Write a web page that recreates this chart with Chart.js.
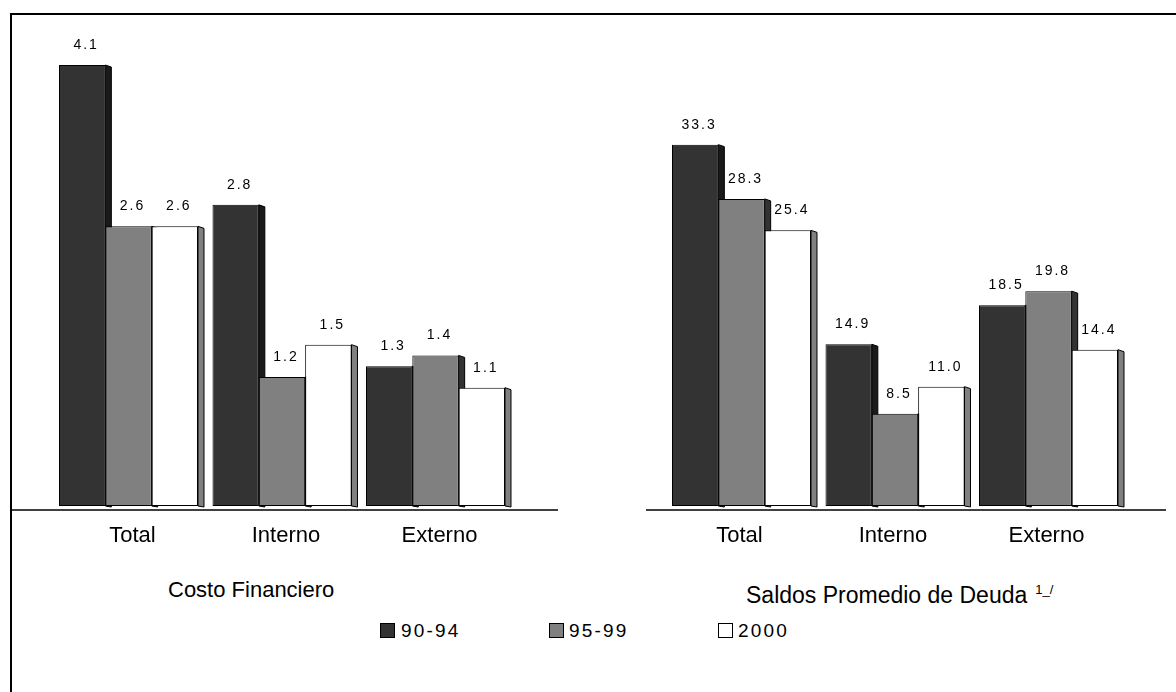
<!DOCTYPE html>
<html>
<head>
<meta charset="utf-8">
<script src="https://cdn.jsdelivr.net/npm/chart.js@4/dist/chart.umd.min.js"></script>
<style>
  html, body { margin: 0; padding: 0; background: #fff; width: 1176px; height: 692px; overflow: hidden;
    font-family: "Liberation Sans", Arial, sans-serif; color: #000; }
  #frame { position: absolute; left: 10px; top: 13px; width: 1200px; height: 720px;
    border-left: 2px solid #000; border-top: 2px solid #000; }
  canvas { position: absolute; }
  .cap { position: absolute; font-size: 22px; line-height: 22px; white-space: nowrap; }
  .cap sup { font-size: 13px; position: relative; top: -9px; margin-left: 8px; vertical-align: baseline; }
  .key { position: absolute; width: 13px; height: 13px; border: 1px solid #000; top: 623px; }
  .ktx { position: absolute; font-size: 19px; line-height: 19px; letter-spacing: 2.2px; top: 621px; white-space: nowrap; }
</style>
</head>
<body>
<div id="frame"></div>
<canvas id="costo" width="546" height="535" style="left:12px;top:15px"></canvas>
<canvas id="saldo" width="520" height="535" style="left:646px;top:15px"></canvas>

<div class="cap" style="left:168px;top:579px">Costo Financiero</div>
<div class="cap" style="left:746px;top:584px;font-size:23px">Saldos Promedio de Deuda<sup>1_/</sup></div>

<div id="legend"></div>

<script>
// Categories and series
const categories = ['Total', 'Interno', 'Externo'];
const periods = ['90-94', '95-99', '2000'];

// Costo Financiero
const costo9094 = [4.1, 2.8, 1.3];
const costo9599 = [2.6, 1.2, 1.4];
const costo2000 = [2.6, 1.5, 1.1];

// Saldos Promedio de Deuda
const saldo9094 = [33.3, 14.9, 18.5];
const saldo9599 = [28.3, 8.5, 19.8];
const saldo2000 = [25.4, 11.0, 14.4];

const frontColors = ['#333333', '#808080', '#ffffff'];
const sideColors = ['#1a1a1a', '#333333', '#808080'];

// Side faces go underneath every front face, so the next bar hides them
const bar3d = {
  id: 'bar3d',
  beforeDatasetsDraw(chart) {
    const ctx = chart.ctx;
    const depth = 6, slant = 2;
    chart.data.datasets.forEach((ds, i) => {
      chart.getDatasetMeta(i).data.forEach(el => {
        const p = el.getProps(['x', 'y', 'base', 'width'], true);
        const r = p.x + p.width / 2;
        ctx.save();
        ctx.beginPath();
        ctx.moveTo(r, p.y);
        ctx.lineTo(r + depth, p.y + slant);
        ctx.lineTo(r + depth, p.base + 1);
        ctx.lineTo(r, p.base);
        ctx.closePath();
        ctx.fillStyle = sideColors[i];
        ctx.fill();
        ctx.strokeStyle = '#000';
        ctx.lineWidth = 1;
        ctx.stroke();
        ctx.restore();
      });
    });
  },
  afterDatasetsDraw(chart) {
    const ctx = chart.ctx;
    // category baseline
    const y0 = chart.scales.y.getPixelForValue(0) + 4;
    ctx.save();
    ctx.strokeStyle = '#000';
    ctx.lineWidth = 1.5;
    ctx.beginPath();
    ctx.moveTo(0, y0);
    ctx.lineTo(chart.width, y0);
    ctx.stroke();
    // value labels
    ctx.fillStyle = '#000';
    ctx.font = '14px "Liberation Sans", Arial, sans-serif';
    ctx.letterSpacing = '2px';
    ctx.textAlign = 'center';
    ctx.textBaseline = 'alphabetic';
    chart.data.datasets.forEach((ds, i) => {
      chart.getDatasetMeta(i).data.forEach((el, j) => {
        const p = el.getProps(['x', 'y'], true);
        ctx.fillText(ds.data[j].toFixed(1), p.x + 4, p.y - 16);
      });
    });
    ctx.restore();
  }
};

function makeChart(id, series, yMax, pad, labelOffset) {
  return new Chart(document.getElementById(id), {
    type: 'bar',
    data: {
      labels: categories,
      datasets: series.map((vals, i) => ({
        label: periods[i],
        data: vals,
        backgroundColor: frontColors[i],
        borderColor: '#000',
        borderWidth: 1,
        borderSkipped: false,
        categoryPercentage: 0.9055,
        barPercentage: 1.0,
        clip: false
      }))
    },
    options: {
      responsive: false,
      maintainAspectRatio: false,
      animation: false,
      events: [],
      layout: { padding: { left: pad[0], right: pad[1], top: 7, bottom: 0 } },
      plugins: { legend: { display: false }, tooltip: { enabled: false }, title: { display: false } },
      scales: {
        x: {
          grid: { display: false, drawTicks: false },
          border: { display: false },
          ticks: {
            color: '#000',
            padding: 17,
            labelOffset: labelOffset,
            font: { family: '"Liberation Sans", Arial, sans-serif', size: 22 }
          },
          afterFit(scale) { scale.height = 44; }
        },
        y: {
          display: false,
          min: 0,
          max: yMax
        }
      }
    },
    plugins: [bar3d]
  });
}

makeChart('costo', [costo9094, costo9599, costo2000], 4.5, [39.75, 45.75], 4);
makeChart('saldo', [saldo9094, saldo9599, saldo2000], 44.6, [18.75, 40.75], -2);

// Shared legend
const legendPos = [[380, 401], [549, 569], [718, 738]];
const legend = document.getElementById('legend');
periods.forEach((p, i) => {
  const k = document.createElement('div');
  k.className = 'key';
  k.style.left = legendPos[i][0] + 'px';
  k.style.background = frontColors[i];
  legend.appendChild(k);
  const t = document.createElement('div');
  t.className = 'ktx';
  t.style.left = legendPos[i][1] + 'px';
  t.textContent = p;
  legend.appendChild(t);
});
</script>
</body>
</html>
